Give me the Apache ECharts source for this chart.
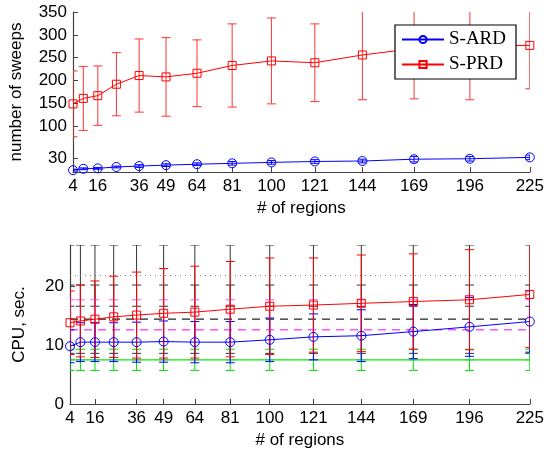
<!DOCTYPE html>
<html><head><meta charset="utf-8">
<script src="https://cdn.jsdelivr.net/npm/echarts@6/dist/echarts.min.js"></script>
<style>html,body{margin:0;padding:0;background:#fff}#c{width:547px;height:450px}</style>
</head><body><div id="c"></div>
<script>
// ---- data ----
var regions = [4, 9, 16, 25, 36, 49, 64, 81, 100, 121, 144, 169, 196, 225];
var xTickLabels = [4, 16, 36, 49, 64, 81, 100, 121, 144, 169, 196, 225];
var sweepTicks = [30, 100, 150, 200, 250, 300, 350];
var cpuTicks = [0, 10, 20];

var sweepsARD    = [4, 7, 8, 11, 13, 15, 17, 19, 21, 23, 24, 28, 29, 32];
var sweepsARDErr = [2, 2, 2, 2, 3, 3, 3, 4, 4, 4, 4, 6, 5, 5];
var sweepsPRD    = [149, 161, 167, 192, 211, 208, 216, 233, 243, 239, 256, 270, 276, 277];
var sweepsPRDErr = [72, 70, 65, 69, 80, 86, 73, 91, 94, 85, 98, 110, 118, 95];

var cpuARD    = [9.8, 10.5, 10.5, 10.5, 10.5, 10.6, 10.5, 10.5, 10.9, 11.4, 11.6, 12.3, 13.1, 14.0];
var cpuARDErr = [2.8, 3.3, 3.3, 3.3, 3.4, 3.5, 3.5, 3.5, 3.7, 3.9, 4.4, 4.6, 5.0, 5.2];
var cpuPRD    = [13.8, 14.1, 14.4, 14.8, 15.1, 15.4, 15.6, 16.1, 16.6, 16.8, 17.1, 17.4, 17.7, 18.6];
var cpuPRDErr = [5.4, 6.1, 6.5, 6.9, 7.3, 7.6, 7.8, 8.1, 8.2, 8.0, 8.2, 8.1, 8.5, 9.0];

var refDotted    = [21.8, 21.8, 21.8, 21.8, 21.8, 21.8, 21.8, 21.8, 21.8, 21.8, 21.8, 21.8, 21.8, 21.8];
var refDottedErr = [5.2, 5.2, 5.2, 5.2, 5.2, 5.2, 5.2, 5.2, 5.2, 5.2, 5.2, 5.2, 5.2, 5.2];
var refDashed    = [14.4, 14.4, 14.4, 14.4, 14.4, 14.4, 14.4, 14.4, 14.4, 14.4, 14.4, 14.4, 14.4, 14.4];
var refDashedErr = [5.8, 5.8, 5.8, 5.8, 5.8, 5.8, 5.8, 5.8, 5.8, 5.8, 5.8, 5.8, 5.8, 5.8];
var refMagenta    = [12.6, 12.6, 12.6, 12.6, 12.6, 12.6, 12.6, 12.6, 12.6, 12.6, 12.6, 12.6, 12.6, 12.6];
var refMagentaErr = [5.1, 5.1, 5.1, 5.1, 5.1, 5.1, 5.1, 5.1, 5.1, 5.1, 5.1, 5.1, 5.1, 5.1];
var refGreen    = [7.5, 7.5, 7.5, 7.5, 7.5, 7.5, 7.5, 7.5, 7.5, 7.5, 7.5, 7.5, 7.5, 7.5];
var refGreenErr = [1.8, 1.8, 1.8, 1.8, 1.8, 1.8, 1.8, 1.8, 1.8, 1.8, 1.8, 1.8, 1.8, 1.8];

// ---- helpers ----
function pairs(vals) { return regions.map(function (x, i) { return [x, vals[i]]; }); }
function errData(vals, errs) {
  return regions.map(function (x, i) { return [x, vals[i] - errs[i], vals[i] + errs[i]]; });
}
function errSeries(vals, errs, color, axisIdx, capW, z) {
  return {
    type: 'custom', xAxisIndex: axisIdx, yAxisIndex: axisIdx, clip: true, z: z || 2,
    silent: true,
    data: errData(vals, errs),
    renderItem: function (params, api) {
      var x = api.value(0);
      var lo = api.coord([x, api.value(1)]);
      var hi = api.coord([x, api.value(2)]);
      var st = { stroke: color, lineWidth: 1 };
      return {
        type: 'group', children: [
          { type: 'line', shape: { x1: lo[0], y1: lo[1], x2: hi[0], y2: hi[1] }, style: st },
          { type: 'line', shape: { x1: lo[0] - capW, y1: lo[1], x2: lo[0] + capW, y2: lo[1] }, style: st },
          { type: 'line', shape: { x1: hi[0] - capW, y1: hi[1], x2: hi[0] + capW, y2: hi[1] }, style: st }
        ]
      };
    }
  };
}
var axisCol = '#444';
var font = 'Liberation Sans, Arial, sans-serif';
function xAxis(gi) {
  return {
    type: 'value', gridIndex: gi, min: 4, max: 225,
    name: '# of regions', nameLocation: 'middle', nameGap: 28,
    nameTextStyle: { fontFamily: font, fontSize: 17, color: '#000' },
    axisLine: { show: true, lineStyle: { color: axisCol, width: 1.2 } },
    axisTick: { show: true, inside: true, length: 5, customValues: xTickLabels, lineStyle: { color: axisCol } },
    axisLabel: { customValues: xTickLabels, fontFamily: font, fontSize: 17, color: '#000', margin: 6 },
    splitLine: { show: false }
  };
}
function yAxis(gi, name, min, max, ticks, gap) {
  return {
    type: 'value', gridIndex: gi, min: min, max: max,
    name: name, nameLocation: 'middle', nameGap: gap,
    nameTextStyle: { fontFamily: font, fontSize: 17, color: '#000' },
    axisLine: { show: true, lineStyle: { color: axisCol, width: 1.2 } },
    axisTick: { show: true, inside: true, length: 5, customValues: ticks, lineStyle: { color: axisCol } },
    axisLabel: { customValues: ticks, fontFamily: font, fontSize: 17, color: '#000', margin: 6 },
    splitLine: { show: false }
  };
}
function lineSeries(name, vals, color, axisIdx, symbol, dash, width, z, symSize) {
  return {
    name: name, type: 'line', xAxisIndex: axisIdx, yAxisIndex: axisIdx,
    data: pairs(vals), symbol: symbol || 'none', symbolSize: symSize || 9,
    showSymbol: !!symbol, silent: true, animation: false, z: z || 3,
    lineStyle: { color: color, width: width || 1, type: dash || 'solid' },
    itemStyle: { color: 'rgba(255,255,255,0)', borderColor: color, borderWidth: 1 }
  };
}

var chart = echarts.init(document.getElementById('c'), null, { renderer: 'canvas' });
chart.setOption({
  animation: false,
  backgroundColor: '#fff',
  grid: [
    { left: 70, top: 12, width: 462, height: 160 },
    { left: 70, top: 245, width: 462, height: 159 }
  ],
  xAxis: [xAxis(0), xAxis(1)],
  yAxis: [yAxis(0, 'number of sweeps', 0, 350, sweepTicks, 48), yAxis(1, 'CPU, sec.', 0, 27, cpuTicks, 42)],
  legend: {
    data: ['S-ARD', 'S-PRD'], orient: 'vertical', left: 395, top: 25,
    backgroundColor: '#fff', borderColor: '#000', borderWidth: 1.2,
    padding: [5, 10, 5, 6], itemGap: 6, itemWidth: 42, itemHeight: 9,
    textStyle: { fontFamily: 'Liberation Serif, Times New Roman, serif', fontSize: 19, color: '#000' }
  },
  series: [
    // top
    errSeries(sweepsPRD, sweepsPRDErr, '#ff3333', 0, 4.5),
    lineSeries('S-PRD', sweepsPRD, '#ff0000', 0, 'rect', 'solid', 1, 3, 8),
    errSeries(sweepsARD, sweepsARDErr, '#0000ff', 0, 4),
    lineSeries('S-ARD', sweepsARD, '#0000ff', 0, 'circle', 'solid', 1, 3, 9),
    // bottom reference lines
    errSeries(refDotted, refDottedErr, '#333', 1, 4.5),
    lineSeries('ref dotted', refDotted, '#777', 1, null, [1, 4], 1),
    errSeries(refDashed, refDashedErr, '#333', 1, 4.5),
    lineSeries('ref dashed', refDashed, '#222', 1, null, [8, 6], 1.3),
    errSeries(refMagenta, refMagentaErr, '#ff55ff', 1, 4.5),
    lineSeries('ref magenta', refMagenta, '#ff55ff', 1, null, [8, 6], 1.6),
    errSeries(refGreen, refGreenErr, '#00dd00', 1, 4.5),
    lineSeries('ref green', refGreen, '#00ee00', 1, null, 'solid', 1.2),
    // bottom method series
    errSeries(cpuARD, cpuARDErr, '#0000ff', 1, 4.5, 4),
    errSeries(cpuPRD, cpuPRDErr, '#ff0000', 1, 4.5, 4),
    lineSeries('S-ARD', cpuARD, '#0000ff', 1, 'circle', 'solid', 1, 5, 9),
    lineSeries('S-PRD', cpuPRD, '#ff0000', 1, 'rect', 'solid', 1, 5, 8)
  ]
});
</script></body></html>
